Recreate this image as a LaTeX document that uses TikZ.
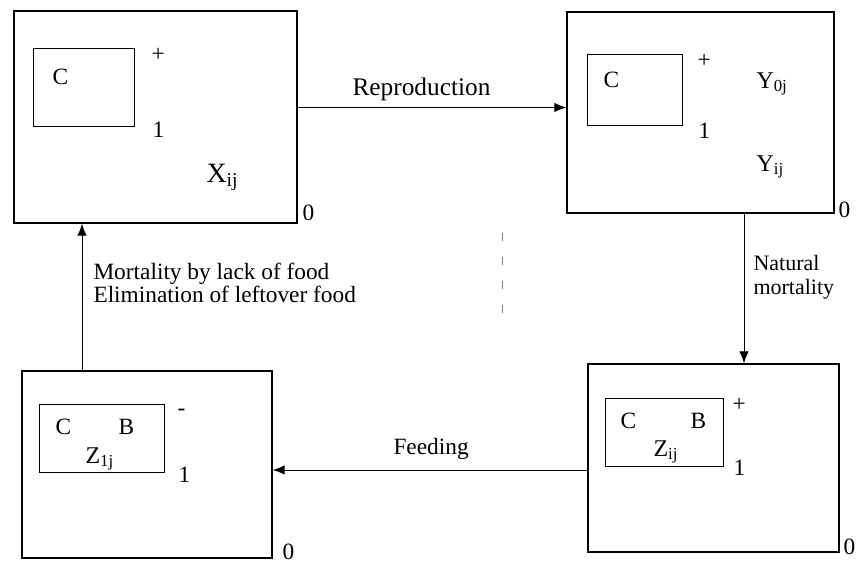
\documentclass[tikz,border=0pt]{standalone}
\usepackage{fontspec}
\setmainfont{Liberation Serif}
\usetikzlibrary{arrows.meta,calc,fit}

\tikzset{every picture/.style={line width=0.75pt}}
\tikzset{
  box/.style={draw, line width=0.85pt, inner sep=0pt},
  flow/.style={-{Latex[length=9pt,width=7pt]}},
  txt/.style={anchor=north west, inner sep=0.75pt, font=\fontsize{17.5}{20}\selectfont},
  var/.style={txt, font=\fontsize{18}{21}\selectfont},
  lab/.style={anchor=north west, inner sep=0.75pt, align=left, font=\fontsize{17.5}{15}\selectfont},
}

\begin{document}
\begin{tikzpicture}[x=0.75pt,y=0.75pt,yscale=-1,xscale=1]
	\useasboundingbox (0,0) rectangle (866,570);
	
	%Shape: Rectangle [outer boxes]
	\node [box, fit={(14,11) (297,223)}] (bX) {};
	\node [box, fit={(567,12) (834,213)}] (bY) {};
	\node [box, fit={(588,364) (839,552)}] (bZ) {};
	\node [box, fit={(22,371) (272,558)}] (bW) {};
	
	%Shape: Rectangle [inner boxes]
	\draw  (33,49) rectangle (134,127) ;
	\draw  (587,55) rectangle (682,126) ;
	\draw  (605,398) rectangle (723,466) ;
	\draw  (39,404) rectangle (164,472) ;
	
	%Straight Lines
	\draw [flow]  ($(bX.east)+(0,-9.5)$) -- ($(bY.west)+(0,-5)$) ;
	%Straight Lines
	\draw [flow]  ($(bY.south)+(43.5,0)$) -- ($(bZ.north)+(30.5,0)$) ;
	%Straight Lines
	\draw [flow]  ($(bZ.west)+(0,12)$) -- ($(bW.east)+(0,5.5)$) ;
	%Straight Lines
	\draw [flow]  ($(bW.north)+(-65,0)$) -- ($(bX.south)+(-73.5,0)$) ;
	%Straight Lines
	\draw [gray, line width=0.5pt, dash pattern={on 6pt off 12pt}]  (502,233) -- (502,320) ;
	
	% Text Node
	\draw (51,68) node [txt] (cX) {C};
	% Text Node
	\draw (150,47) node [txt] (pX) {+};
	% Text Node
	\draw (151,121) node [txt] (oX) {1};
	% Text Node
	\draw (205,163) node [txt, font=\fontsize{21}{24}\selectfont] (vX) {X\textsubscript{ij}};
	% Text Node
	\draw (301,203) node [txt] (zX) {0};
	
	% Text Node
	\draw (602,71) node [txt] (cY) {C};
	% Text Node
	\draw (696,53) node [txt] (pY) {+};
	% Text Node
	\draw (697,122) node [txt] (oY) {1};
	% Text Node
	\draw (755,71) node [var] (vY0) {Y\textsubscript{0j}};
	% Text Node
	\draw (755,154) node [var] (vY) {Y\textsubscript{ij}};
	% Text Node
	\draw (837,200) node [txt] (zY) {0};
	
	% Text Node
	\draw (619,412) node [txt] (cZ) {C};
	% Text Node
	\draw (689,412) node [txt] (bBZ) {B};
	% Text Node
	\draw (652,439) node [var] (vZ) {Z\textsubscript{ij}};
	% Text Node
	\draw (731,397) node [txt] (pZ) {+};
	% Text Node
	\draw (732,459) node [txt] (oZ) {1};
	% Text Node
	\draw (842,537) node [txt] (zZ) {0};
	
	% Text Node
	\draw (54,418) node [txt] (cW) {C};
	% Text Node
	\draw (117,418) node [txt] (bBW) {B};
	% Text Node
	\draw (84,446) node [var] (vW) {Z\textsubscript{1j}};
	% Text Node
	\draw (176,408) node [txt] (mW) {-};
	% Text Node
	\draw (177,466) node [txt] (oW) {1};
	% Text Node
	\draw (281,542) node [txt] (zW) {0};
	
	% Text Node
	\draw (351,76) node [lab, font=\fontsize{19}{22}\selectfont] (lRep) {Reproduction};
	% Text Node
	\draw (752,254) node [lab, font=\fontsize{16.5}{18}\selectfont] (lNat) {Natural\\mortality};
	% Text Node
	\draw (392,437) node [lab] (lFeed) {Feeding};
	% Text Node
	\draw (92,262) node [lab] (lMort) {Mortality by lack of food\\Elimination of leftover food};
	
\end{tikzpicture}
\end{document}
